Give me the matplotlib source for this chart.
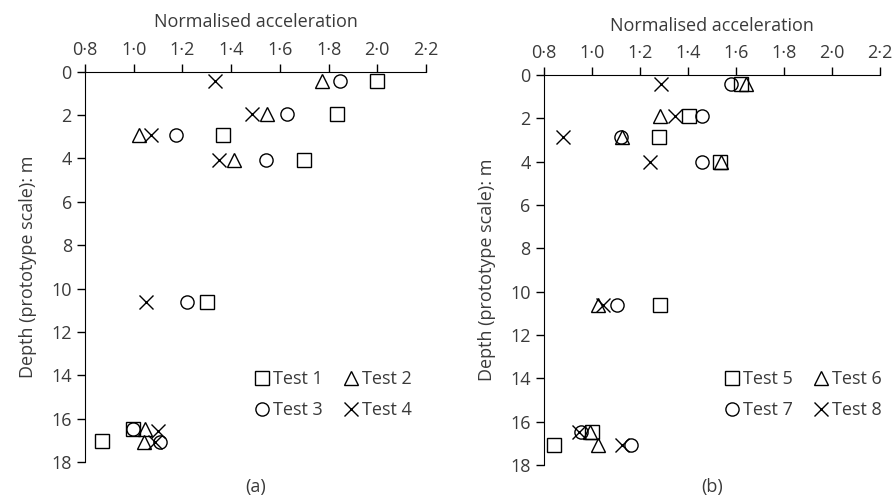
import matplotlib
matplotlib.use("Agg")
import matplotlib.pyplot as plt
from matplotlib.ticker import FuncFormatter

plt.rcParams['font.family'] = ['Open Sans', 'DejaVu Sans']

TEXT = '#3a3a3a'

# panel (a)
depth_a = {
    'Test 1': [0.45, 1.95, 2.9, 4.05, 10.6, 16.5, 17.05],
    'Test 2': [0.45, 1.95, 2.9, 4.05, 16.5, 17.1],
    'Test 3': [0.45, 1.95, 2.9, 4.05, 10.6, 16.5, 17.1],
    'Test 4': [0.45, 1.95, 2.9, 4.05, 10.6, 16.55, 17.1],
}
acc_a = {
    'Test 1': [2.00, 1.833, 1.367, 1.70, 1.30, 0.995, 0.868],
    'Test 2': [1.774, 1.546, 1.023, 1.413, 1.046, 1.042],
    'Test 3': [1.847, 1.631, 1.174, 1.543, 1.217, 0.997, 1.108],
    'Test 4': [1.334, 1.484, 1.07, 1.35, 1.049, 1.101, 1.087],
}

# panel (b)
depth_b = {
    'Test 5': [0.4, 1.9, 2.85, 4.0, 10.6, 16.5, 17.1],
    'Test 6': [0.4, 1.9, 2.85, 4.0, 10.6, 16.5, 17.1],
    'Test 7': [0.4, 1.9, 2.85, 4.0, 10.6, 16.5, 17.1],
    'Test 8': [0.4, 1.9, 2.85, 4.0, 10.6, 16.5, 17.1],
}
acc_b = {
    'Test 5': [1.624, 1.405, 1.282, 1.533, 1.283, 1.003, 0.842],
    'Test 6': [1.643, 1.285, 1.128, 1.539, 1.025, 0.993, 1.027],
    'Test 7': [1.582, 1.461, 1.122, 1.46, 1.106, 0.957, 1.162],
    'Test 8': [1.29, 1.347, 0.88, 1.243, 1.047, 0.948, 1.125],
}

x_ticks = [0.8, 1.0, 1.2, 1.4, 1.6, 1.8, 2.0, 2.2]
y_ticks = [0, 2, 4, 6, 8, 10, 12, 14, 16, 18]
markers = ['s', '^', 'o', 'x']
FS = 13


def draw_panel(ax, acc, depth, tag, leg_anchor):
    for (name, xs), m in zip(acc.items(), markers):
        if m == 'x':
            ax.plot(xs, depth[name], linestyle='none', marker=m, markersize=9.5,
                    color='black', markeredgewidth=1.0, label=name)
        else:
            ax.plot(xs, depth[name], linestyle='none', marker=m, markersize=9.5,
                    markerfacecolor='none', markeredgecolor='black',
                    markeredgewidth=1.0, label=name)
    ax.set_xlim(0.8, 2.2)
    ax.set_ylim(18, 0)
    ax.xaxis.tick_top()
    ax.xaxis.set_label_position('top')
    ax.set_xticks(x_ticks)
    ax.set_yticks(y_ticks)
    ax.xaxis.set_major_formatter(FuncFormatter(lambda v, p: f'{v:.1f}'.replace('.', '\u00b7')))
    ax.spines['right'].set_visible(False)
    ax.spines['bottom'].set_visible(False)
    ax.tick_params(direction='out', length=6, width=1, colors='black',
                   labelcolor=TEXT, labelsize=FS)
    ax.set_xlabel('Normalised acceleration', fontsize=FS, color=TEXT, labelpad=9.5)
    ax.set_ylabel('Depth (prototype scale): m', fontsize=FS, color=TEXT, labelpad=10)
    bb = ax.get_position()
    fig.text((bb.x0 + bb.x1) / 2, 0.02, tag, ha='center', va='center',
             fontsize=FS, color=TEXT)
    h, l = ax.get_legend_handles_labels()
    order = [0, 2, 1, 3]
    leg = ax.legend([h[i] for i in order], [l[i] for i in order], ncol=2,
                    frameon=False, fontsize=FS, loc='lower right',
                    bbox_to_anchor=leg_anchor, handlelength=0.9,
                    handletextpad=0.15, columnspacing=1.1, labelspacing=0.7,
                    borderpad=0, borderaxespad=0)
    for t in leg.get_texts():
        t.set_color(TEXT)


fig = plt.figure(figsize=(8.94, 4.97), dpi=100)
ax1 = fig.add_axes([0.0951, 0.0704, 0.3814, 0.7853])
ax2 = fig.add_axes([0.6082, 0.0644, 0.3758, 0.7847])
draw_panel(ax1, acc_a, depth_a, '(a)', (0.958, 0.11))
draw_panel(ax2, acc_b, depth_b, '(b)', (1.005, 0.118))

fig.savefig('out.png', dpi=100)
